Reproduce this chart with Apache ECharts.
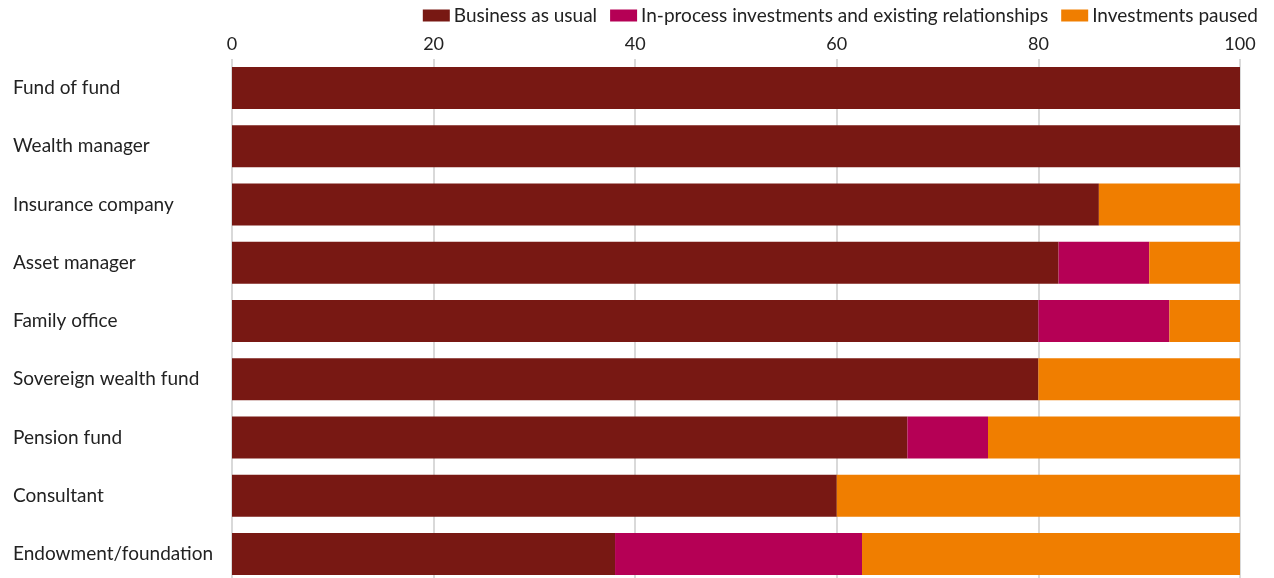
<!DOCTYPE html>
<html>
<head>
<meta charset="utf-8">
<title>Investor responses by type</title>
<script src="https://cdn.jsdelivr.net/npm/echarts@6/dist/echarts.min.js"></script>
<style>
  html, body { margin: 0; padding: 0; background: #ffffff; }
  #chart { width: 1274px; height: 578px; }
</style>
</head>
<body>
<div id="chart"></div>
<script>
// Investor types, top to bottom
const categories = [
  'Fund of fund',
  'Wealth manager',
  'Insurance company',
  'Asset manager',
  'Family office',
  'Sovereign wealth fund',
  'Pension fund',
  'Consultant',
  'Endowment/foundation'
];

// Share of respondents (%) per response
const businessAsUsual = [100, 100, 86, 82, 80, 80, 67, 60, 38];
const inProcess       = [0, 0, 0, 9, 13, 0, 8, 0, 24.5];
const paused          = [0, 0, 14, 9, 7, 20, 25, 40, 37.5];

const seriesNames = [
  'Business as usual',
  'In-process investments and existing relationships',
  'Investments paused'
];
const seriesColors = ['#781813', '#b50055', '#f07e00'];

const FONT = 'Lato, "Noto Sans", sans-serif';

const chart = echarts.init(document.getElementById('chart'), null, { renderer: 'canvas' });

const values = [businessAsUsual, inProcess, paused];

chart.setOption({
  animation: false,
  backgroundColor: '#ffffff',
  textStyle: { fontFamily: FONT, color: '#222222' },
  legend: {
    top: 1,
    right: 11,
    itemWidth: 27,
    itemHeight: 12,
    itemGap: 13,
    icon: 'rect',
    textStyle: { fontFamily: FONT, fontSize: 19, color: '#222222', padding: [0, 0, 0, -1] },
    data: seriesNames
  },
  // the last band runs a few pixels past the bottom edge
  grid: {
    left: 232,
    right: 34,
    top: 59,
    height: 524,
    containLabel: false,
    outerBoundsMode: 'none'
  },
  xAxis: {
    type: 'value',
    position: 'top',
    min: 0,
    max: 100,
    interval: 20,
    axisLine: { show: false },
    axisTick: { show: false },
    axisLabel: { fontFamily: FONT, fontSize: 18, color: '#222222', margin: 6 },
    splitLine: { show: true, lineStyle: { color: '#d9d9d9', width: 2 } }
  },
  yAxis: {
    type: 'category',
    inverse: true,
    data: categories,
    axisLine: { show: false },
    axisTick: { show: false },
    axisLabel: {
      fontFamily: FONT,
      fontSize: 19,
      color: '#222222',
      align: 'left',
      margin: 219
    }
  },
  series: seriesNames.map((name, i) => ({
    name: name,
    type: 'bar',
    stack: 'total',
    barWidth: 42,
    itemStyle: { color: seriesColors[i] },
    emphasis: { disabled: true },
    data: values[i]
  }))
});
</script>
</body>
</html>
